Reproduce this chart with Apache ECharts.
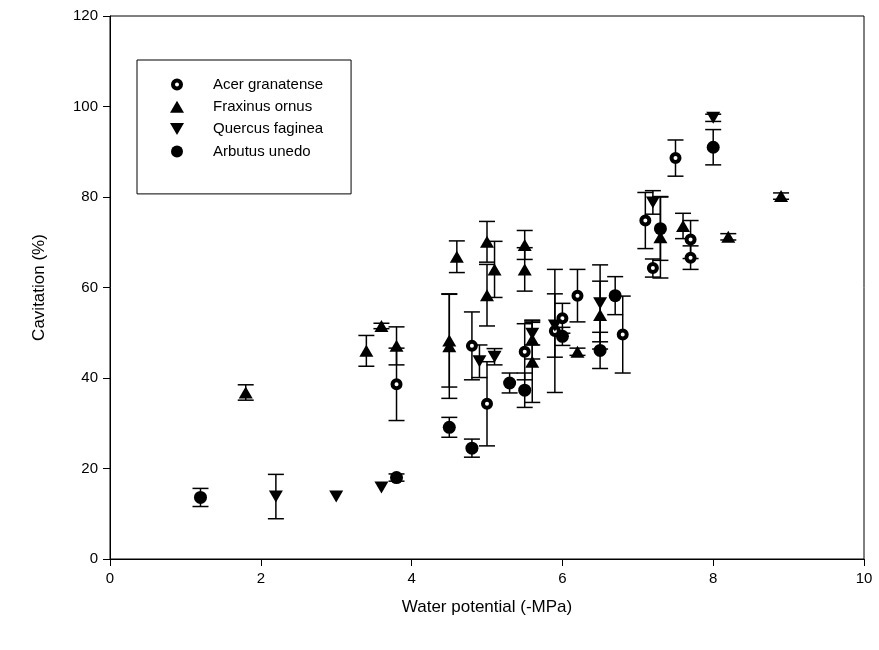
<!DOCTYPE html>
<html>
<head>
<meta charset="utf-8">
<script src="https://cdn.jsdelivr.net/npm/echarts@6/dist/echarts.min.js"></script>
<style>html,body{margin:0;padding:0;background:#fff;}#c{width:879px;height:650px;}</style>
</head>
<body>
<div id="c"></div>
<script>
var seriesNames = ['Acer granatense', 'Fraxinus ornus', 'Quercus faginea', 'Arbutus unedo'];

var acerX   = [3.8, 4.8, 5.0, 5.5, 5.9, 6.0, 6.2, 6.8, 7.1, 7.2, 7.5, 7.7, 7.7];
var acerY   = [38.6, 47.1, 34.3, 45.8, 50.4, 53.2, 58.2, 49.6, 74.8, 64.3, 88.6, 70.6, 66.6];
var acerErr = [8.0, 7.5, 9.3, 6.2, 13.6, 3.3, 5.8, 8.5, 6.2, 2.0, 4.0, 4.2, 2.6];

var fraxX   = [1.8, 3.4, 3.6, 3.8, 4.5, 4.5, 4.6, 5.0, 5.0, 5.1, 5.5, 5.5, 5.6, 5.6, 6.2, 6.5, 7.3, 7.6, 8.2, 8.9];
var fraxY   = [36.8, 46.0, 51.5, 47.1, 48.3, 47.0, 66.8, 70.1, 58.3, 64.0, 69.4, 64.0, 48.5, 43.6, 45.8, 53.9, 71.1, 73.6, 71.2, 80.2];
var fraxErr = [1.7, 3.4, 0.6, 4.2, 10.3, 11.5, 3.5, 4.5, 6.8, 6.2, 3.2, 4.8, 4.3, 9.0, 0.8, 7.5, 9.0, 2.8, 0.7, 0.7];

var quercX   = [2.2, 3.0, 3.6, 4.9, 5.1, 5.6, 5.9, 6.5, 7.2, 8.0];
var quercY   = [13.8, 13.8, 15.8, 43.7, 44.7, 49.8, 51.6, 56.5, 78.8, 97.5];
var quercErr = [4.9, 0, 0, 3.6, 1.8, 2.5, 7.0, 8.5, 2.6, 0.8];

var arbX   = [1.2, 3.8, 4.5, 4.8, 5.3, 5.5, 6.0, 6.5, 6.7, 7.3, 8.0];
var arbY   = [13.6, 18.0, 29.1, 24.5, 38.9, 37.3, 49.2, 46.1, 58.2, 73.0, 91.0];
var arbErr = [2.0, 0.8, 2.2, 2.0, 2.2, 3.8, 2.0, 4.0, 4.2, 7.0, 3.9];

var xTicks = [0, 2, 4, 6, 8, 10];
var yTicks = [0, 20, 40, 60, 80, 100, 120];

function pts(xs, ys) { return xs.map(function (x, i) { return [x, ys[i]]; }); }
function errPts(xs, ys, es) { return xs.map(function (x, i) { return [x, ys[i], es[i]]; }); }

var allErr = [].concat(
  errPts(acerX, acerY, acerErr),
  errPts(fraxX, fraxY, fraxErr),
  errPts(quercX, quercY, quercErr),
  errPts(arbX, arbY, arbErr)
).filter(function (d) { return d[2] > 0; });

var FONT = 'Liberation Sans, Arial, sans-serif';

var ringIcon = 'path://M6,0 A6,6 0 1,1 6,12 A6,6 0 1,1 6,0 Z M6,4 A2,2 0 1,0 6,8 A2,2 0 1,0 6,4 Z';
var upIcon = 'path://M7,0 L14,12 L0,12 Z';
var downIcon = 'path://M0,0 L14,0 L7,12 Z';

var chart = echarts.init(document.getElementById('c'), null, { renderer: 'canvas' });
chart.setOption({
  animation: false,
  backgroundColor: '#fff',
  grid: { left: 110, right: 15, top: 16, bottom: 91, show: true, borderColor: '#000', borderWidth: 1 },
  xAxis: {
    type: 'value', min: 0, max: 10, interval: 2,
    name: 'Water potential (-MPa)', nameLocation: 'middle', nameGap: 40,
    nameTextStyle: { fontSize: 17, color: '#000', fontFamily: FONT },
    axisLine: { show: true, lineStyle: { color: '#000', width: 1 } },
    axisTick: { show: true, inside: false, length: 7, lineStyle: { color: '#000' } },
    axisLabel: { fontSize: 15, color: '#000', fontFamily: FONT, margin: 12,
      formatter: function (v) { return xTicks.indexOf(v) >= 0 ? String(v) : ''; } },
    splitLine: { show: false }
  },
  yAxis: {
    type: 'value', min: 0, max: 120, interval: 20,
    name: 'Cavitation (%)', nameLocation: 'middle', nameGap: 62,
    nameTextStyle: { fontSize: 17, color: '#000', fontFamily: FONT },
    axisLine: { show: true, lineStyle: { color: '#000', width: 1 } },
    axisTick: { show: true, inside: false, length: 7, lineStyle: { color: '#000' } },
    axisLabel: { fontSize: 15, color: '#000', fontFamily: FONT, margin: 12,
      formatter: function (v) { return yTicks.indexOf(v) >= 0 ? String(v) : ''; } },
    splitLine: { show: false }
  },
  legend: {
    data: [
      { name: seriesNames[0], icon: ringIcon, itemStyle: { color: '#000', borderWidth: 0 } },
      { name: seriesNames[1], icon: upIcon, itemStyle: { color: '#000', borderWidth: 0 } },
      { name: seriesNames[2], icon: downIcon, itemStyle: { color: '#000', borderWidth: 0 } },
      { name: seriesNames[3], icon: 'circle', itemStyle: { color: '#000', borderWidth: 0 } }
    ],
    orient: 'vertical', left: 137, top: 60,
    itemWidth: 14, itemHeight: 12, itemGap: 7.3,
    symbolKeepAspect: true,
    padding: [17, 28, 35, 33],
    borderColor: '#000', borderWidth: 1,
    textStyle: { fontSize: 15, color: '#000', fontFamily: FONT, padding: [0, 0, 0, 24] },
    selectedMode: false
  },
  series: [
    {
      type: 'custom', name: 'err', silent: true, z: 1,
      data: allErr,
      renderItem: function (params, api) {
        var x = api.value(0), y = api.value(1), e = api.value(2);
        var top = api.coord([x, y + e]);
        var bot = api.coord([x, y - e]);
        var hw = 8;
        var st = { stroke: '#000', lineWidth: 1.5 };
        return {
          type: 'group',
          children: [
            { type: 'line', shape: { x1: top[0], y1: top[1], x2: bot[0], y2: bot[1] }, style: st },
            { type: 'line', shape: { x1: top[0] - hw, y1: top[1], x2: top[0] + hw, y2: top[1] }, style: st },
            { type: 'line', shape: { x1: bot[0] - hw, y1: bot[1], x2: bot[0] + hw, y2: bot[1] }, style: st }
          ]
        };
      }
    },
    {
      type: 'scatter', name: seriesNames[0], z: 5,
      data: pts(acerX, acerY),
      symbol: 'circle', symbolSize: 8,
      itemStyle: { color: '#fff', borderColor: '#000', borderWidth: 4, opacity: 1 }
    },
    {
      type: 'scatter', name: seriesNames[1], z: 5,
      data: pts(fraxX, fraxY),
      symbol: 'triangle', symbolSize: [14, 12],
      itemStyle: { color: '#000', opacity: 1 }
    },
    {
      type: 'scatter', name: seriesNames[2], z: 5,
      data: pts(quercX, quercY),
      symbol: 'triangle', symbolSize: [14, 12], symbolRotate: 180,
      itemStyle: { color: '#000', opacity: 1 }
    },
    {
      type: 'scatter', name: seriesNames[3], z: 5,
      data: pts(arbX, arbY),
      symbol: 'circle', symbolSize: 13,
      itemStyle: { color: '#000', opacity: 1 }
    }
  ]
});
</script>
</body>
</html>
